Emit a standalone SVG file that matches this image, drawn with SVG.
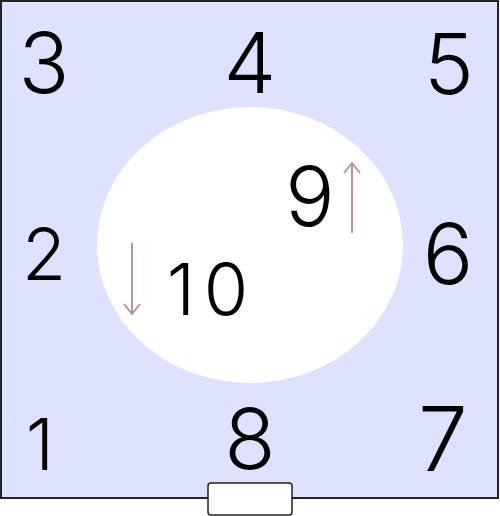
<svg xmlns="http://www.w3.org/2000/svg" width="500" height="516" viewBox="0 0 500 516">
<defs>
<style>
.num{font-family:"Inter","Noto Sans",sans-serif;font-size:84px;fill:#000;text-anchor:middle;font-weight:270}
.sm{font-size:72px}
.arr{stroke:#b8959c;stroke-width:2;fill:none}
</style>
</defs>
<g id="room">
<rect x="1" y="1" width="497" height="497" fill="#dfe2ff" stroke="#222" stroke-width="2"/>
<ellipse cx="250" cy="245" rx="153" ry="138" fill="#ffffff"/>
<rect id="door" x="208" y="483" width="84" height="32" rx="3" fill="#ffffff" stroke="#222" stroke-width="1.5"/>
</g>
<g id="labels">
<text class="num" x="44" y="93">3</text>
<text class="num" x="250" y="93">4</text>
<text class="num" x="449" y="94">5</text>
<text class="num sm" x="44" y="280">2</text>
<text class="num" x="448" y="284">6</text>
<text class="num sm" x="40" y="470">1</text>
<text class="num" x="250" y="469">8</text>
<text class="num" x="443" y="471" style="font-size:89px">7</text>
<text class="num" x="310" y="226" style="font-size:82px">9</text>
<text class="num sm" x="181 226" y="315">10</text>
</g>
<g id="connectors">
<path class="arr" d="M352 233 V164 M344 173 L352 163 L360 173"/>
<path class="arr" d="M132 243 V314 M124 304 L132 314 L140 304"/>
</g>
</svg>
